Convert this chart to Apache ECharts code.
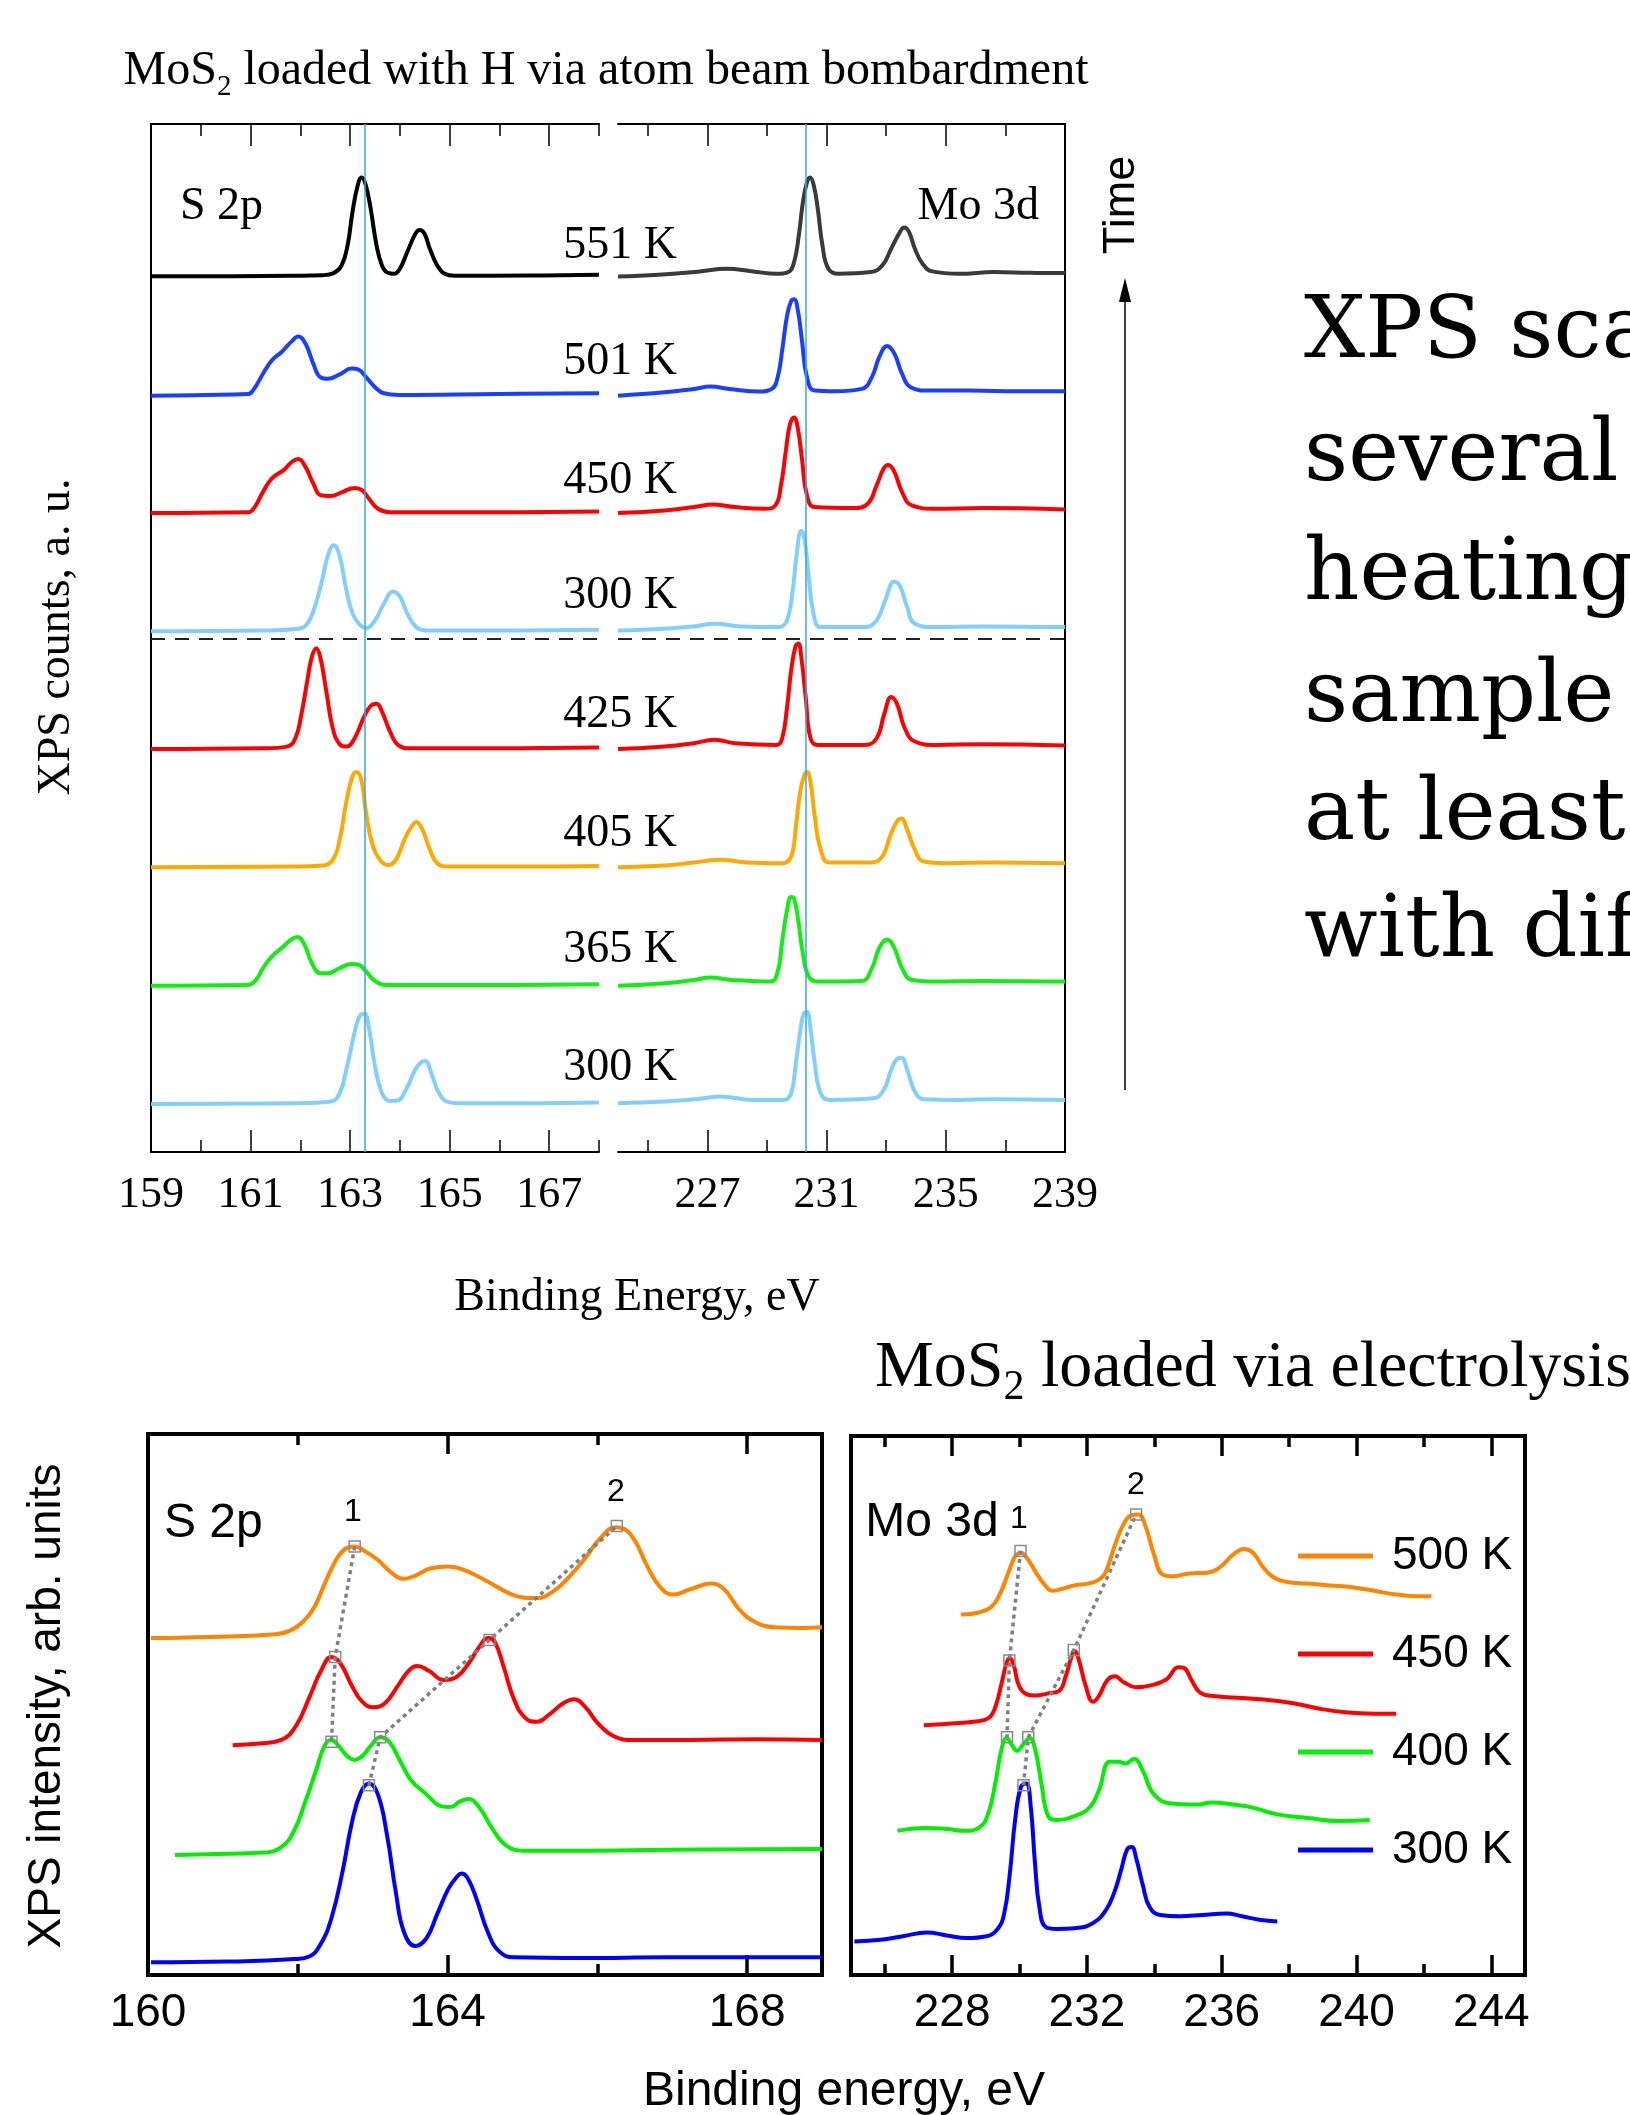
<!DOCTYPE html>
<html><head><meta charset="utf-8">
<script src="https://cdn.jsdelivr.net/npm/echarts@6/dist/echarts.min.js"></script>
<style>html,body{margin:0;padding:0;background:#fff}#c{width:1630px;height:2115px}</style>
</head><body><div id="c"></div><script>
// ---------- TOP PANEL DATA (binding energy eV, intensity a.u. above each curve's offset) ----------
const topNames = ['551 K','501 K','450 K','300 K','425 K','405 K','365 K','300 K'];
const topOffsets = [876.5, 758, 639.8, 521.5, 403.7, 285.4, 167, 48.7];
const topColorsL = ['#000000','#1a3fff','#ff0000','#82cfff','#ff0000','#ffa800','#11ee11','#82cfff'];
const topColorsR = ['#3a3a3a','#1a3fff','#ff0000','#82cfff','#ff0000','#ffa800','#11ee11','#82cfff'];
const topRefLines = [163.3, 230.3];
const topSeparator = 513.5;

const t551L = [[159.0,-0.7],[160.66,-0.7],[161.84,-0.3],[162.44,0.3],[162.67,2.4],[162.83,10.1],[162.95,30.4],[163.05,64.2],[163.15,89.6],[163.23,98.0],[163.31,91.3],[163.41,67.6],[163.53,30.4],[163.64,10.1],[163.76,2.7],[163.88,1.7],[164.00,6.8],[164.15,23.7],[164.30,40.6],[164.39,45.6],[164.49,42.3],[164.60,27.0],[164.75,10.1],[164.90,1.7],[165.10,-0.3],[166.58,0],[168.0,0.7]];
const t551R = [[224.0,-1.0],[225.36,0.7],[226.75,4.1],[227.64,6.8],[228.53,4.1],[229.32,1.7],[229.71,3.4],[229.91,13.5],[230.07,40.6],[230.21,74.4],[230.34,93.0],[230.44,98.0],[230.56,91.3],[230.70,67.6],[230.86,30.4],[231.06,6.8],[231.39,1.7],[232.48,3.4],[232.87,10.1],[233.17,27.0],[233.47,43.9],[233.60,48.0],[233.76,43.9],[233.96,27.0],[234.22,11.8],[234.55,4.1],[235.44,1.7],[236.63,3.4],[237.81,2.7],[239.0,2.4]];
const t501L = [[159.0,-1.7],[160.07,-1.0],[160.95,0],[161.07,5.1],[161.25,20.3],[161.43,33.8],[161.63,42.3],[161.82,52.4],[161.96,57.5],[162.10,50.7],[162.26,30.4],[162.40,16.9],[162.55,15.2],[162.79,19.6],[163.03,25.4],[163.17,24.3],[163.32,16.9],[163.50,6.8],[163.68,0.7],[163.98,-1.0],[165.99,0],[168.0,0.7]];
const t501R = [[224.0,-1.7],[225.56,1.7],[226.55,5.1],[227.10,7.4],[227.74,5.1],[228.72,2.4],[229.16,5.1],[229.36,16.9],[229.51,43.9],[229.67,77.8],[229.81,93.0],[229.91,94.7],[230.03,84.5],[230.17,54.1],[230.34,16.9],[230.60,3.4],[231.29,2.7],[232.18,5.1],[232.52,16.9],[232.77,37.2],[233.03,48.0],[233.27,40.6],[233.53,20.3],[233.82,6.8],[234.45,3.4],[235.84,3.4],[237.42,2.7],[239.0,2.7]];
const t450L = [[159,-0.7],[160.95,0],[161.07,4.1],[161.25,20.3],[161.43,33.8],[161.67,42.3],[161.84,50.7],[161.96,53.1],[162.10,45.6],[162.26,28.7],[162.41,16.9],[162.61,16.2],[162.85,20.3],[163.09,24.3],[163.24,22.0],[163.38,13.5],[163.56,3.4],[163.80,0],[165.99,0],[168,0.7]];
const t450R = [[224.0,-0.7],[225.56,1.7],[226.55,5.1],[227.18,7.8],[227.93,5.1],[228.92,3.4],[229.28,6.8],[229.47,27.0],[229.63,60.9],[229.77,87.9],[229.91,94.7],[230.03,84.5],[230.17,54.1],[230.34,16.9],[230.60,5.1],[231.89,4.1],[232.38,8.5],[232.68,27.0],[232.92,43.9],[233.07,47.3],[233.27,40.6],[233.53,20.3],[233.86,6.8],[234.65,3.4],[236.23,4.1],[239,2.7]];
const t300aL = [[159,-0.7],[161.25,0],[161.96,1.7],[162.14,6.8],[162.29,23.7],[162.44,50.7],[162.55,74.4],[162.67,85.2],[162.79,74.4],[162.91,43.9],[163.05,16.9],[163.21,5.1],[163.32,2.4],[163.50,10.1],[163.68,27.0],[163.86,38.9],[164.00,33.8],[164.15,16.9],[164.33,3.4],[164.57,0],[165.99,0],[168,0.7]];
const t300aR = [[224.0,0],[225.56,1.7],[226.55,4.1],[227.24,6.8],[228.13,4.1],[229.41,3.4],[229.67,10.1],[229.85,37.2],[229.99,74.4],[230.15,99.7],[230.26,91.3],[230.40,54.1],[230.56,16.9],[230.80,3.4],[232.28,3.4],[232.68,10.1],[232.97,30.4],[233.27,49.0],[233.47,43.9],[233.70,23.7],[233.96,6.8],[234.65,3.4],[236.23,4.1],[239,3.4]];
const t425L = [[159,-0.7],[161.25,0],[161.73,1.7],[161.90,10.1],[162.02,33.8],[162.14,67.6],[162.23,91.3],[162.32,99.7],[162.40,91.3],[162.52,57.5],[162.65,20.3],[162.79,4.1],[162.93,1.7],[163.09,10.1],[163.27,30.4],[163.41,42.3],[163.53,44.6],[163.65,35.5],[163.80,16.9],[163.98,2.7],[164.21,0],[165.99,0],[168,0.7]];
const t425R = [[224.0,-0.7],[225.56,1.7],[226.55,5.1],[227.24,8.5],[227.93,5.1],[229.32,3.4],[229.51,10.1],[229.67,40.6],[229.81,77.8],[229.95,101.4],[230.05,104.8],[230.15,91.3],[230.30,50.7],[230.46,10.1],[230.70,3.4],[232.28,3.4],[232.68,10.1],[232.93,33.8],[233.17,51.4],[233.37,43.9],[233.62,20.3],[233.96,6.8],[234.65,3.4],[236.23,4.1],[239,2.7]];
const t405L = [[159,-0.7],[161.84,0],[162.44,1.0],[162.65,6.8],[162.79,27.0],[162.91,60.9],[163.03,87.9],[163.12,94.7],[163.22,87.9],[163.32,54.1],[163.44,23.7],[163.60,6.8],[163.76,1.7],[163.92,6.8],[164.09,27.0],[164.24,40.6],[164.33,44.6],[164.45,37.2],[164.59,18.6],[164.75,3.4],[164.98,0],[166.46,0],[168,0.7]];
const t405R = [[224.0,-0.7],[225.56,1.0],[226.55,4.1],[227.44,6.8],[228.33,4.1],[229.51,3.4],[229.81,10.1],[229.97,40.6],[230.11,74.4],[230.25,91.3],[230.34,94.7],[230.46,84.5],[230.60,50.7],[230.80,16.9],[231.09,4.1],[232.48,4.1],[232.87,10.1],[233.13,30.4],[233.37,45.6],[233.51,48.0],[233.70,37.2],[233.96,16.9],[234.26,5.1],[235.05,3.4],[236.43,4.1],[239,3.4]];
const t365L = [[159,-0.7],[160.95,0],[161.11,5.1],[161.25,16.9],[161.43,28.7],[161.63,37.2],[161.82,45.6],[161.94,48.0],[162.08,40.6],[162.23,22.0],[162.40,11.8],[162.55,11.8],[162.79,16.9],[163.03,21.0],[163.17,20.3],[163.32,13.5],[163.50,4.1],[163.74,0],[165.99,0],[168,0.7]];
const t365R = [[224.0,-0.7],[225.56,1.7],[226.55,5.1],[227.10,7.4],[227.83,5.1],[229.12,3.4],[229.36,13.5],[229.51,43.9],[229.67,74.4],[229.81,87.9],[229.91,86.2],[230.05,64.2],[230.21,30.4],[230.40,8.5],[230.70,3.4],[232.18,4.1],[232.52,16.9],[232.77,37.2],[233.03,45.6],[233.27,37.2],[233.53,16.9],[233.86,5.1],[234.65,3.4],[236.23,4.1],[239,3.4]];
const t300bL = [[159,-0.7],[161.84,0],[162.61,1.7],[162.79,10.1],[162.94,37.2],[163.09,71.0],[163.20,87.9],[163.29,89.6],[163.38,74.4],[163.50,37.2],[163.64,10.1],[163.80,2.4],[163.95,2.7],[164.12,13.5],[164.31,33.8],[164.43,41.2],[164.51,42.3],[164.63,30.4],[164.77,11.8],[164.95,1.7],[165.22,0],[166.58,0],[168,0.7]];
const t300bR = [[224.0,0],[225.56,1.7],[226.65,4.1],[227.44,6.8],[228.53,3.4],[229.57,3.4],[229.81,10.1],[229.97,40.6],[230.11,71.0],[230.23,89.6],[230.34,91.3],[230.46,74.4],[230.60,40.6],[230.80,10.1],[231.09,3.4],[232.58,5.1],[232.92,13.5],[233.17,33.8],[233.37,44.6],[233.51,45.6],[233.70,33.8],[233.96,11.8],[234.26,4.1],[235.44,3.4],[236.63,4.1],[239,3.4]];
const topLeft = [t551L, t501L, t450L, t300aL, t425L, t405L, t365L, t300bL];
const topRight = [t551R, t501R, t450R, t300aR, t425R, t405R, t365R, t300bR];

// ---------- BOTTOM PANEL DATA (binding energy eV, stacked intensity a.u.) ----------
const botNames = ['500 K','450 K','400 K','300 K'];
const botColors = ['#ff8400','#ff0000','#00f000','#0000ff'];
const s2p500 = [[160.04,336.9],[160.78,338],[161.66,340.5],[161.89,344.2],[162.07,353.3],[162.22,367.8],[162.36,391.4],[162.51,415.0],[162.63,426],[162.76,428.5],[162.89,424.1],[163.07,415.0],[163.25,402.3],[163.41,396.2],[163.57,399.4],[163.78,406.7],[164.01,408.5],[164.25,404.1],[164.54,393.2],[164.84,381.2],[165.07,376.9],[165.19,376.9],[165.42,384.2],[165.63,398.7],[165.84,416.9],[166.04,436.9],[166.25,447.8],[166.36,446.0],[166.51,433.2],[166.66,409.6],[166.84,387.8],[167.01,380.5],[167.25,386.0],[167.51,391.4],[167.69,386.0],[167.89,366.0],[168.10,353.3],[168.36,347.8],[168.72,347.1],[169.0,347.8]];
const s2p450 = [[161.13,229.7],[161.48,231.5],[161.78,235.1],[161.98,249.7],[162.16,278.7],[162.31,304.2],[162.45,318.0],[162.57,311.5],[162.72,289.6],[162.86,273.3],[163.01,267.8],[163.16,271.5],[163.34,289.6],[163.48,304.2],[163.60,308.9],[163.75,304.2],[163.95,295.1],[164.13,298.7],[164.28,311.5],[164.42,327.8],[164.54,336.9],[164.63,333.3],[164.75,307.8],[164.89,275.1],[165.04,256.9],[165.19,253.3],[165.36,260.6],[165.54,271.5],[165.69,275.8],[165.84,267.8],[166.01,251.5],[166.22,238.8],[166.48,235.1],[167.25,235.1],[168.13,235.8],[169.0,235.1]];
const s2p400 = [[160.36,119.9],[161.07,121.3],[161.54,122.4],[161.78,127.9],[161.95,144.2],[162.10,173.3],[162.25,206.0],[162.36,229.7],[162.45,235.1],[162.54,229.7],[162.66,218.8],[162.76,215.1],[162.86,218.8],[162.98,229.7],[163.10,237.7],[163.22,233.3],[163.36,215.1],[163.51,195.1],[163.72,180.6],[163.92,168.6],[164.04,167.9],[164.16,173.3],[164.28,175.9],[164.42,167.9],[164.60,146.1],[164.78,129.7],[165.01,124.3],[165.78,124.3],[166.95,125.3],[169.0,126.1]];
const s2p300 = [[160.04,12.7],[161.07,13.4],[161.95,15.9],[162.16,18.8],[162.31,31.6],[162.45,57.0],[162.60,104.3],[162.72,151.5],[162.84,182.4],[162.95,191.5],[163.07,180.6],[163.19,140.6],[163.31,82.5],[163.42,42.5],[163.57,29.0],[163.72,37.0],[163.86,60.6],[164.01,86.1],[164.13,98.8],[164.19,101.4],[164.28,95.2],[164.39,75.2],[164.54,42.5],[164.69,23.6],[164.89,17.7],[165.78,17.0],[166.95,17.7],[169.0,17.7]];
const mo3d500 = [[228.26,360.5],[228.76,362.3],[229.15,367.8],[229.41,380.5],[229.67,402.3],[229.87,418.7],[230.04,422.3],[230.22,416.9],[230.46,404.1],[230.72,391.4],[230.98,384.2],[231.24,386.0],[231.63,389.6],[232.03,391.4],[232.35,395.1],[232.55,402.3],[232.81,427.8],[233.07,449.6],[233.33,459.8],[233.53,460.5],[233.73,449.6],[233.99,420.5],[234.25,400.5],[234.58,398.7],[235.03,401.6],[235.56,402.3],[235.95,407.8],[236.34,420.5],[236.67,426.0],[236.93,422.3],[237.19,409.6],[237.52,398.0],[237.91,393.2],[238.56,391.4],[239.22,389.6],[239.87,387.8],[240.52,384.2],[241.18,380.5],[241.83,378.7],[242.22,378.7]];
const mo3d450 = [[227.16,249.7],[227.97,251.5],[228.63,253.3],[229.08,256.9],[229.28,267.8],[229.48,293.3],[229.61,311.5],[229.71,316.9],[229.83,309.6],[229.96,291.5],[230.13,282.4],[230.46,279.5],[230.85,281.6],[231.18,284.2],[231.37,298.7],[231.53,316.9],[231.63,324.2],[231.76,315.1],[231.96,289.6],[232.18,273.3],[232.35,278.7],[232.61,295.1],[232.84,298.7],[233.07,293.3],[233.46,287.8],[233.99,290.4],[234.38,296.2],[234.71,307.8],[234.88,307.1],[235.10,295.1],[235.36,282.4],[235.82,278.7],[236.60,276.9],[237.39,275.1],[238.17,271.5],[238.95,266.0],[239.74,262.4],[240.52,261.3],[241.18,261.3]];
const mo3d400 = [[226.38,144.2],[227.19,147.1],[227.84,146.0],[228.37,144.2],[228.82,147.9],[229.08,162.4],[229.28,191.5],[229.48,227.8],[229.62,236.9],[229.78,229.7],[229.93,224.2],[230.13,231.5],[230.30,236.9],[230.46,226.0],[230.65,191.5],[230.85,158.8],[231.11,155.1],[231.63,158.8],[232.09,167.9],[232.35,184.2],[232.68,213.3],[232.94,213.3],[233.14,211.5],[233.40,216.2],[233.66,204.2],[233.99,180.6],[234.51,171.5],[235.29,170.4],[235.69,172.6],[236.34,170.4],[236.86,167.9],[237.65,160.6],[238.56,157.0],[239.48,154.1],[240.39,155.1]];
const mo3d300 = [[225.10,33.4],[225.88,35.2],[226.54,38.8],[227.25,42.5],[227.84,39.6],[228.43,37.0],[229.02,38.8],[229.35,46.1],[229.54,60.6],[229.71,100.6],[229.87,155.1],[230.04,187.9],[230.20,191.5],[230.33,169.7],[230.46,111.5],[230.59,67.9],[230.78,47.9],[231.11,46.1],[231.63,46.8],[232.16,51.5],[232.55,64.2],[232.81,82.4],[233.01,104.3],[233.20,126.1],[233.33,127.9],[233.46,117.0],[233.66,89.7],[233.86,67.9],[234.18,60.0],[234.77,58.8],[235.42,60.0],[236.14,61.4],[236.60,58.8],[237.12,55.2],[237.65,53.4]];
const s2pAll = [s2p500, s2p450, s2p400, s2p300];
const mo3dAll = [mo3d500, mo3d450, mo3d400, mo3d300];
// peak-tracking markers (component 1 and 2)
const s2pTrack1 = [[162.76,428.5],[162.50,318.0],[162.45,233.3]];
const s2pTrack2 = [[162.95,189.7],[163.10,237.7],[164.56,335.1],[166.26,448.9]];
const moTrack1 = [[230.03,424.1],[229.70,314.4],[229.63,237.7]];
const moTrack2 = [[230.12,189.7],[230.26,237.7],[231.61,324.9],[233.46,460.5]];

// ---------- AXIS TICKS ----------
const topLLabels = [159,161,163,165,167], topLMajor = [161,163,165,167], topLMinor = [160,162,164,166,168];
const topRLabels = [227,231,235,239], topRMajor = [227,231,235], topRMinor = [225,229,233,237];
const botLLabels = [160,164,168], botLMajor = [164,168], botLMinor = [162,166];
const botRLabels = [228,232,236,240,244], botRMajor = [228,232,236,240,244], botRMinor = [226,230,234,238,242];

const serif = 'Liberation Serif', sans = 'Liberation Sans';

function xAxes(grid, min, max, labels, major, minor, st) {
  const base = {type:'value', gridIndex:grid, min:min, max:max, splitLine:{show:false}};
  const line = {show: st.line, onZero:false, lineStyle:{color:'#000', width:st.lw}};
  const lab = {show:true, customValues:labels, margin:st.margin, color:'#000', fontFamily:st.font, fontSize:st.fs};
  return [
    Object.assign({}, base, {position:'bottom', axisLine:line, axisLabel:lab,
      axisTick:{show:true, inside:true, length:st.long, customValues:major, lineStyle:{color:'#000', width:st.tw}}}),
    Object.assign({}, base, {position:'bottom', axisLine:{show:false, onZero:false}, axisLabel:{show:false},
      axisTick:{show:true, inside:true, length:st.short, customValues:minor, lineStyle:{color:'#000', width:st.tw}}}),
    Object.assign({}, base, {position:'top', axisLine:line, axisLabel:{show:false},
      axisTick:{show:true, inside:true, length:st.long, customValues:major, lineStyle:{color:'#000', width:st.tw}}}),
    Object.assign({}, base, {position:'top', axisLine:{show:false, onZero:false}, axisLabel:{show:false},
      axisTick:{show:true, inside:true, length:st.short, customValues:minor, lineStyle:{color:'#000', width:st.tw}}})
  ];
}
const topSt = {line:true, lw:2, tw:1.5, long:22, short:12, margin:21, font:serif, fs:44};
const botSt = {line:false, lw:4, tw:3.5, long:20, short:11, margin:15, font:sans, fs:46};

const xAxis = [].concat(
  xAxes(0,159,168,topLLabels,topLMajor,topLMinor,topSt),
  xAxes(1,224,239,topRLabels,topRMajor,topRMinor,topSt),
  xAxes(2,160,169,botLLabels,botLMajor,botLMinor,botSt),
  xAxes(3,225,245,botRLabels,botRMajor,botRMinor,botSt)
);
function yAx(grid, max, pos, showLine) {
  return {type:'value', gridIndex:grid, min:0, max:max, position:pos,
    axisLine:{show:showLine, onZero:false, lineStyle:{color:'#000', width:2}},
    axisTick:{show:false}, axisLabel:{show:false}, splitLine:{show:false}};
}
const yAxis = [yAx(0,1028,'left',true), yAx(1,1028,'right',true), yAx(2,541,'left',false), yAx(3,539,'left',false)];

const SMOOTH = 0.45;
const series = [];
function shifted(arr, off) { return arr.map(p => [p[0], p[1] + off]); }
for (let i = 0; i < topNames.length; i++) {
  series.push({type:'line', name:'beam ' + topNames[i] + ' S2p', xAxisIndex:0, yAxisIndex:0,
    data: shifted(topLeft[i], topOffsets[i]), showSymbol:false, smooth:SMOOTH,
    lineStyle:{color:topColorsL[i], width:4, join:'round'}, itemStyle:{color:topColorsL[i]}, z:2});
  series.push({type:'line', name:'beam ' + topNames[i] + ' Mo3d', xAxisIndex:4, yAxisIndex:1,
    data: shifted(topRight[i], topOffsets[i]), showSymbol:false, smooth:SMOOTH,
    lineStyle:{color:topColorsR[i], width:4, join:'round'}, itemStyle:{color:topColorsR[i]}, z:2});
}
function refLines(xv) {
  return {symbol:['none','none'], silent:true, label:{show:false}, animation:false,
    data:[{xAxis:xv, lineStyle:{color:'#36a9e1', width:1.5, type:'solid'}},
          {yAxis:topSeparator, lineStyle:{color:'#222', width:2, type:[14,10]}}]};
}
series.push({type:'line', name:'ref L', xAxisIndex:0, yAxisIndex:0, data:[], markLine:refLines(topRefLines[0]), z:3});
series.push({type:'line', name:'ref R', xAxisIndex:4, yAxisIndex:1, data:[], markLine:refLines(topRefLines[1]), z:3});

for (let i = 0; i < botNames.length; i++) {
  series.push({type:'line', name:botNames[i], xAxisIndex:8, yAxisIndex:2, data:s2pAll[i],
    showSymbol:false, smooth:SMOOTH, lineStyle:{color:botColors[i], width:4, join:'round'}, itemStyle:{color:botColors[i]}, z:2});
  series.push({type:'line', name:botNames[i], xAxisIndex:12, yAxisIndex:3, data:mo3dAll[i],
    showSymbol:false, smooth:SMOOTH, lineStyle:{color:botColors[i], width:4, join:'round'}, itemStyle:{color:botColors[i]}, z:2});
}
function track(name, data, xi, yi) {
  return {type:'line', name:name, xAxisIndex:xi, yAxisIndex:yi, data:data, symbol:'rect', symbolSize:11, showSymbol:true,
    lineStyle:{color:'#808080', width:3.5, type:[4,4]},
    itemStyle:{color:'rgba(255,255,255,0)', borderColor:'#8a8a8a', borderWidth:1.5}, z:5};
}
series.push(track('track S1', s2pTrack1, 8, 2), track('track S2', s2pTrack2, 8, 2),
            track('track M1', moTrack1, 12, 3), track('track M2', moTrack2, 12, 3));

function txt(x, y, text, font, size, extra) {
  return {type:'text', x:x, y:y, style:Object.assign({text:text, fontFamily:font, fontSize:size, fill:'#000',
    align:'center', verticalAlign:'middle'}, extra || {}), z:10};
}
const topLabelY = [246, 362, 481, 596, 715, 834, 950, 1068];
const bigFont = 'DejaVu Serif';
const graphic = [
  {type:'text', x:606, y:71, z:10, style:{text:'{m|MoS}{s|2}{m| loaded with H via atom beam bombardment}',
    align:'center', verticalAlign:'middle', fill:'#000',
    rich:{m:{fontFamily:serif, fontSize:48, lineHeight:62, verticalAlign:'middle'},
          s:{fontFamily:serif, fontSize:29, lineHeight:28, verticalAlign:'bottom'}}}},
  txt(180, 207, 'S 2p', serif, 46, {align:'left'}),
  txt(1039, 207, 'Mo 3d', serif, 46, {align:'right'}),
  txt(637, 1298, 'Binding Energy, eV', serif, 46),
  Object.assign(txt(57, 637, 'XPS counts, a. u.', serif, 46), {rotation:Math.PI/2}),
  Object.assign(txt(1122, 205, 'Time', sans, 45), {rotation:Math.PI/2}),
  {type:'line', shape:{x1:1125, y1:1090, x2:1125, y2:298}, style:{stroke:'#000', lineWidth:1.5}, z:10},
  {type:'polygon', shape:{points:[[1125,278],[1119,302],[1131,302]]}, style:{fill:'#000'}, z:10},
  txt(1304, 335, 'XPS sca', bigFont, 86, {align:'left'}),
  txt(1304, 458, 'several', bigFont, 86, {align:'left'}),
  txt(1304, 577, 'heating', bigFont, 86, {align:'left'}),
  txt(1304, 699, 'sample', bigFont, 86, {align:'left'}),
  txt(1304, 817, 'at least', bigFont, 86, {align:'left'}),
  txt(1304, 934, 'with dif', bigFont, 86, {align:'left'}),
  {type:'text', x:875, y:1369, z:10, style:{text:'{m|MoS}{s|2}{m| loaded via electrolysis}',
    align:'left', verticalAlign:'middle', fill:'#000',
    rich:{m:{fontFamily:serif, fontSize:66, lineHeight:80, verticalAlign:'middle'},
          s:{fontFamily:serif, fontSize:42, lineHeight:58, verticalAlign:'bottom'}}}},
  txt(164, 1524, 'S 2p', sans, 48, {align:'left'}),
  txt(353, 1512, '1', sans, 32),
  txt(616, 1492, '2', sans, 32),
  txt(932, 1523, 'Mo 3d', sans, 48),
  txt(1019, 1519, '1', sans, 32),
  txt(1136, 1485, '2', sans, 32),
  txt(844, 2092, 'Binding energy, eV', sans, 48),
  Object.assign(txt(47, 1706, 'XPS intensity, arb. units', sans, 46), {rotation:Math.PI/2})
];
topNames.forEach((n, i) => graphic.push(txt(620, topLabelY[i], n, serif, 46)));

const chart = echarts.init(document.getElementById('c'), null, {renderer:'canvas'});
chart.setOption({
  animation:false,
  backgroundColor:'#fff',
  grid:[
    {left:151, top:124, width:448, height:1028},
    {left:618, top:124, width:447, height:1028},
    {left:148, top:1434, width:674, height:541, show:true, borderColor:'#000', borderWidth:4, backgroundColor:'rgba(0,0,0,0)'},
    {left:851, top:1436, width:674, height:539, show:true, borderColor:'#000', borderWidth:4, backgroundColor:'rgba(0,0,0,0)'}
  ],
  legend:{data:botNames, orient:'vertical', left:1293, top:1528, itemWidth:75, itemHeight:5, icon:'rect', itemGap:52,
    selectedMode:false, textStyle:{fontFamily:sans, fontSize:46, lineHeight:46, color:'#000', padding:[0,0,0,14]}},
  xAxis:xAxis, yAxis:yAxis, series:series, graphic:graphic
});
</script></body></html>
